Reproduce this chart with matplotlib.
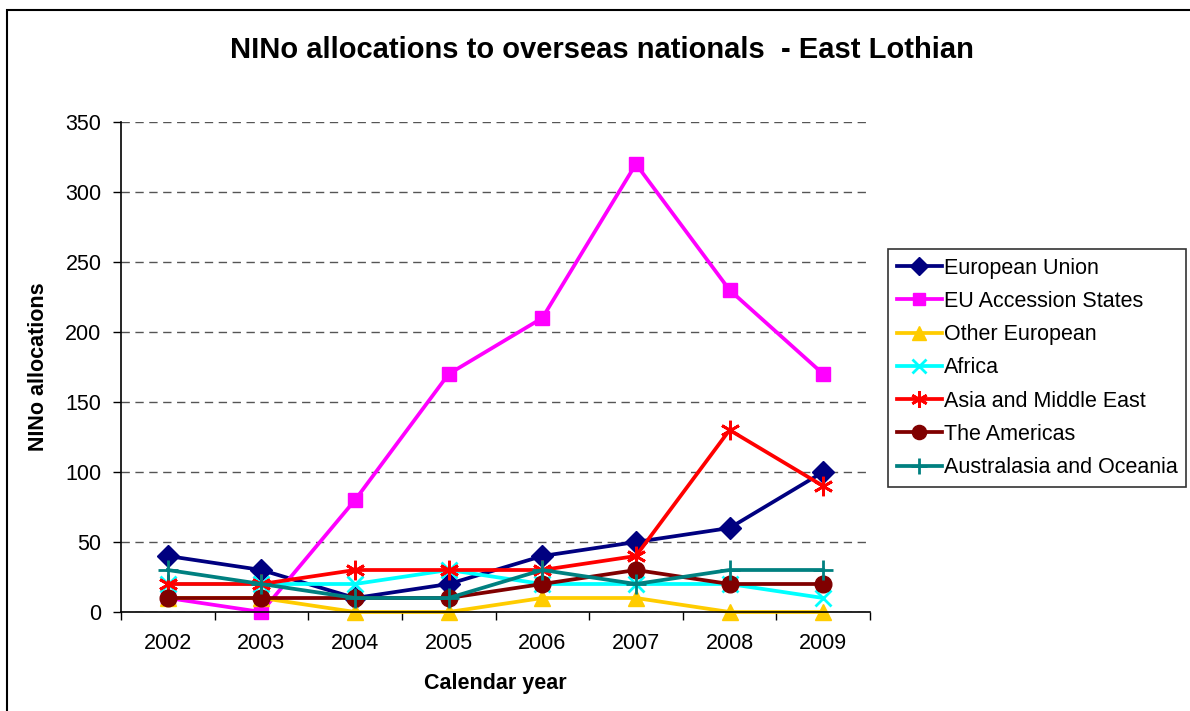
import matplotlib
matplotlib.use("Agg")
import matplotlib.pyplot as plt
from matplotlib.patches import Rectangle
import numpy as np

years = ["2002", "2003", "2004", "2005", "2006", "2007", "2008", "2009"]
european_union = [40, 30, 10, 20, 40, 50, 60, 100]
eu_accession = [10, 0, 80, 170, 210, 320, 230, 170]
other_european = [10, 10, 0, 0, 10, 10, 0, 0]
africa = [20, 20, 20, 30, 20, 20, 20, 10]
asia_middle_east = [20, 20, 30, 30, 30, 40, 130, 90]
americas = [10, 10, 10, 10, 20, 30, 20, 20]
australasia = [30, 20, 10, 10, 30, 20, 30, 30]

series = [
    ("European Union", european_union, "#000080", "D", 11),
    ("EU Accession States", eu_accession, "#FF00FF", "s", 10),
    ("Other European", other_european, "#FFCC00", "^", 12),
    ("Africa", africa, "#00FFFF", "x", 12),
    ("Asia and Middle East", asia_middle_east, "#FF0000", (6, 2, 0), 14),
    ("The Americas", americas, "#800000", "o", 12),
    ("Australasia and Oceania", australasia, "#008080", "+", 14),
]

plt.rcParams['font.family'] = ['Liberation Sans', 'DejaVu Sans']

fig = plt.figure(figsize=(11.9, 7.11), dpi=100)
ax = fig.add_axes([121/1190, 1-612/711, (870-121)/1190, (612-122)/711])

# outer chart border
fig.patches.append(Rectangle((7/1190, -0.05), 1.2, 1-10/711+0.05, transform=fig.transFigure,
                             fill=False, edgecolor="#000000", linewidth=1.5))

x = np.arange(len(years))
for name, vals, col, mk, ms in series:
    ax.plot(x, vals, color=col, linewidth=2.7, marker=mk, markersize=ms,
            markeredgewidth=2 if mk in ("x", "+", (6, 2, 0)) else 1,
            markerfacecolor=col, markeredgecolor=col, label=name, clip_on=False)

ax.set_xlim(-0.5, len(years) - 0.5)
ax.set_ylim(0, 350)
ax.set_yticks(np.arange(0, 351, 50))
ax.set_xticks(x)
ax.set_xticklabels(years)
ax.set_xticks(np.arange(-0.5, len(years), 1), minor=True)
ax.tick_params(axis='x', which='major', length=0, pad=15, labelsize=15.5)
ax.tick_params(axis='x', which='minor', length=6, direction='out', width=1)
ax.tick_params(axis='y', length=6, direction='out', width=1, pad=8, labelsize=15.5)
ax.grid(axis='y', linestyle=(0, (6, 4)), color='#555555', linewidth=1)
ax.set_axisbelow(True)
for s in ("top", "right"):
    ax.spines[s].set_visible(False)
for s in ("left", "bottom"):
    ax.spines[s].set_linewidth(1.2)

ax.set_xlabel("Calendar year", fontsize=15.5, fontweight='bold', labelpad=14)
ax.set_ylabel("NINo allocations", fontsize=15.5, fontweight='bold', labelpad=12)
fig.text(602/1190, 1-50/711, "NINo allocations to overseas nationals  - East Lothian",
         ha='center', va='center', fontsize=21, fontweight='bold')

leg = ax.legend(loc='upper left', bbox_to_anchor=(888/1190, 1-249/711), bbox_transform=fig.transFigure,
                frameon=True, fancybox=False, shadow=False, fontsize=15.5, handlelength=2.1,
                handletextpad=0.1, labelspacing=0.57, borderpad=0.4, borderaxespad=0,
                markerscale=0.85)
leg.get_frame().set_edgecolor('#000000')
leg.get_frame().set_linewidth(1.2)

fig.savefig("out.png", dpi=100)
